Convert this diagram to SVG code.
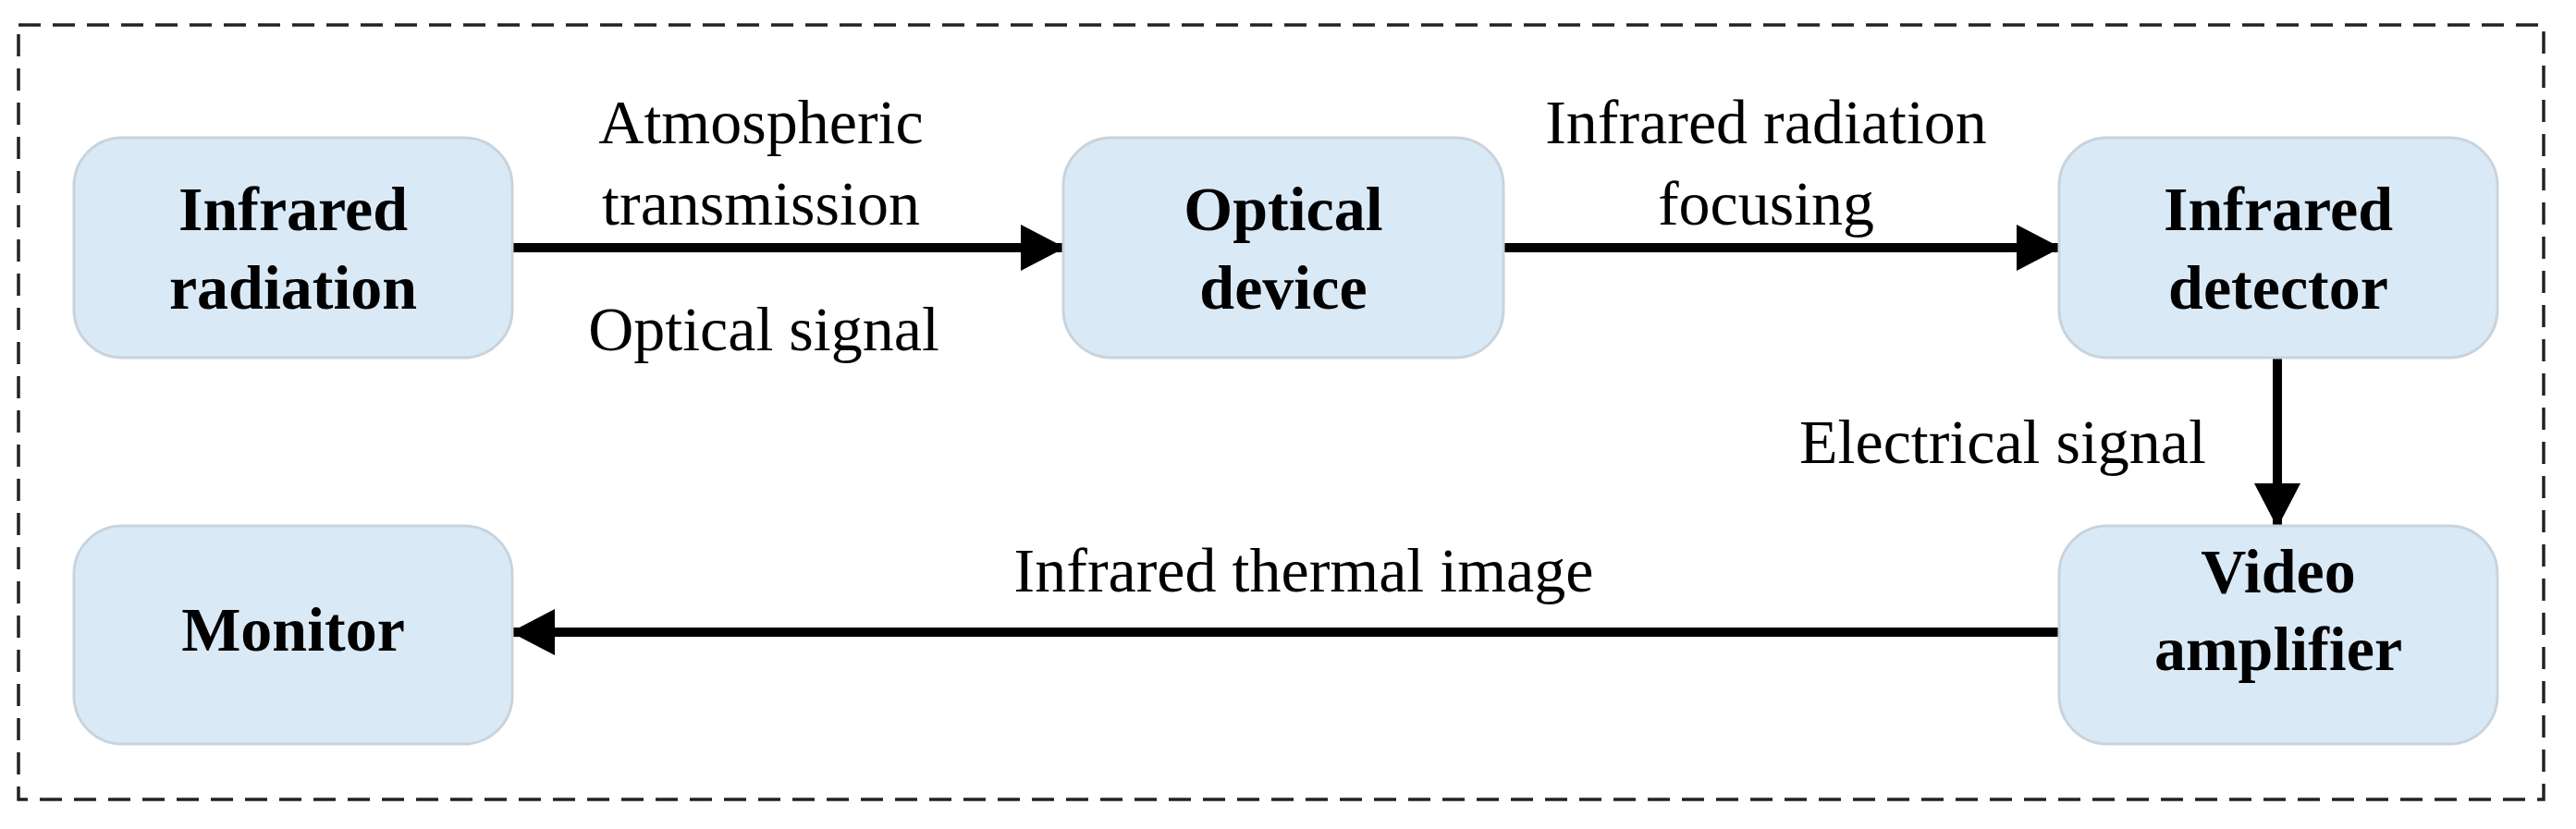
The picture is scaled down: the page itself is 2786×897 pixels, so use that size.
<svg xmlns="http://www.w3.org/2000/svg" width="2786" height="897" viewBox="0 0 2786 897">
<style>
.box{fill:#dae9f6;stroke:#c9d3dc;stroke-width:3}
.nt{font-family:"Liberation Serif",serif;font-weight:bold;font-size:68px;text-anchor:middle;fill:#000}
.lt{font-family:"Liberation Serif",serif;font-size:68px;text-anchor:middle;fill:#000}
.c{stroke:#000;stroke-width:10;fill:none;marker-end:url(#ah)}
</style>
<defs>
<marker id="ah" markerUnits="userSpaceOnUse" markerWidth="48" markerHeight="50" refX="46" refY="25" orient="auto"><path d="M0,0 L48,25 L0,50 Z" fill="#000"/></marker>
</defs>
<rect x="20" y="27" width="2731" height="838" fill="none" stroke="#222" stroke-width="3.5" stroke-dasharray="24,13"/>
<g id="connectors">
<line class="c" x1="554" y1="268" x2="1150" y2="268"/>
<line class="c" x1="1626" y1="268" x2="2227" y2="268"/>
<line class="c" x1="2463" y1="387" x2="2463" y2="569"/>
<line class="c" x1="2227" y1="684" x2="554" y2="684"/>
<text class="lt" x="823" y="155">Atmospheric</text>
<text class="lt" x="823" y="243">transmission</text>
<text class="lt" x="826" y="379">Optical signal</text>
<text class="lt" x="1910" y="155">Infrared radiation</text>
<text class="lt" x="1910" y="243">focusing</text>
<text class="lt" x="2166" y="501">Electrical signal</text>
<text class="lt" x="1410" y="640">Infrared thermal image</text>
</g>
<g id="n1"><rect class="box" x="80" y="149" width="474" height="238" rx="52"/><text class="nt" x="317" y="249">Infrared</text><text class="nt" x="317" y="334">radiation</text></g>
<g id="n2"><rect class="box" x="1150" y="149" width="476" height="238" rx="52"/><text class="nt" x="1388" y="249">Optical</text><text class="nt" x="1388" y="334">device</text></g>
<g id="n3"><rect class="box" x="2227" y="149" width="474" height="238" rx="52"/><text class="nt" x="2464" y="249">Infrared</text><text class="nt" x="2464" y="334">detector</text></g>
<g id="n4"><rect class="box" x="80" y="569" width="474" height="236" rx="52"/><text class="nt" x="317" y="704">Monitor</text></g>
<g id="n5"><rect class="box" x="2227" y="569" width="474" height="236" rx="52"/><text class="nt" x="2464" y="641">Video</text><text class="nt" x="2464" y="725">amplifier</text></g>
</svg>
